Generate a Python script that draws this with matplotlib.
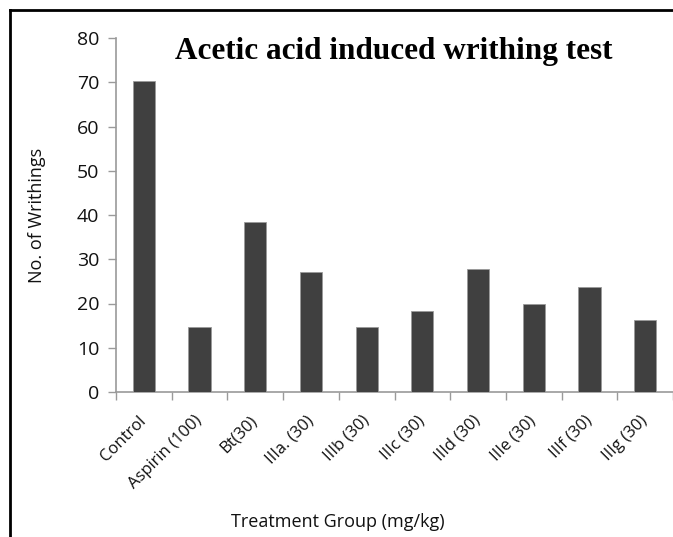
import matplotlib
matplotlib.use("Agg")
import matplotlib.pyplot as plt
from matplotlib.lines import Line2D
import numpy as np

categories = ["Control", "Aspirin (100)", "Bt(30)", "IIIa. (30)", "IIIb (30)",
              "IIIc (30)", "IIId (30)", "IIIe (30)", "IIIf (30)", "IIIg (30)"]
writhings = [70.3, 14.7, 38.4, 27.1, 14.7, 18.3, 27.8, 19.9, 23.7, 16.3]
yticks = [0, 10, 20, 30, 40, 50, 60, 70, 80]

W, H = 673, 537
fig = plt.figure(figsize=(W / 100, H / 100), dpi=100)
ax = fig.add_axes([116 / W, 1 - 392 / H, (673 - 116) / W, (392 - 38) / H])

x = np.arange(len(categories))
ax.bar(x, writhings, width=0.4, color="#404040", edgecolor="#9a9a9a", linewidth=0.6, zorder=3)

ax.set_xlim(-0.5, len(categories) - 0.5)
ax.set_ylim(0, 80)
ax.set_yticks(yticks)
ax.set_yticklabels([str(v) for v in yticks], fontfamily="Open Sans", fontsize=14,
                   fontweight="medium", color="#111111")

ax.set_xticks(x)
ax.set_xticklabels(categories, rotation=45, ha="right", va="center", rotation_mode="anchor",
                   fontfamily="Open Sans", fontsize=12, color="#111111")
ax.tick_params(axis="x", which="major", length=0, pad=19)
ax.set_xticks(np.arange(-0.5, len(categories), 1.0), minor=True)
ax.tick_params(axis="x", which="minor", length=6, color="#9a9a9a", width=1)
ax.tick_params(axis="y", length=6, color="#9a9a9a", width=1, pad=6)

for s in ["top", "right"]:
    ax.spines[s].set_visible(False)
for s in ["left", "bottom"]:
    ax.spines[s].set_color("#9a9a9a")
    ax.spines[s].set_linewidth(1.2)

ax.set_ylabel("No. of Writhings", fontfamily="Open Sans", fontsize=13, color="#111111", labelpad=22)
fig.text(338 / W, 1 - 522 / H, "Treatment Group (mg/kg)", ha="center", va="center",
         fontfamily="Open Sans", fontsize=13, color="#111111")
fig.text(394 / W, 1 - 52 / H, "Acetic acid induced writhing test", ha="center", va="center",
         fontfamily="Liberation Serif", fontweight="bold", fontsize=22.5, color="black")

# border frame (top and left, image cropped on other sides)
fig.add_artist(Line2D([10 / W, 1.0], [1 - 10 / H, 1 - 10 / H], transform=fig.transFigure,
                      color="black", linewidth=2))
fig.add_artist(Line2D([10 / W, 10 / W], [0, 1 - 10 / H], transform=fig.transFigure,
                      color="black", linewidth=2))

fig.savefig("out.png", dpi=100)
